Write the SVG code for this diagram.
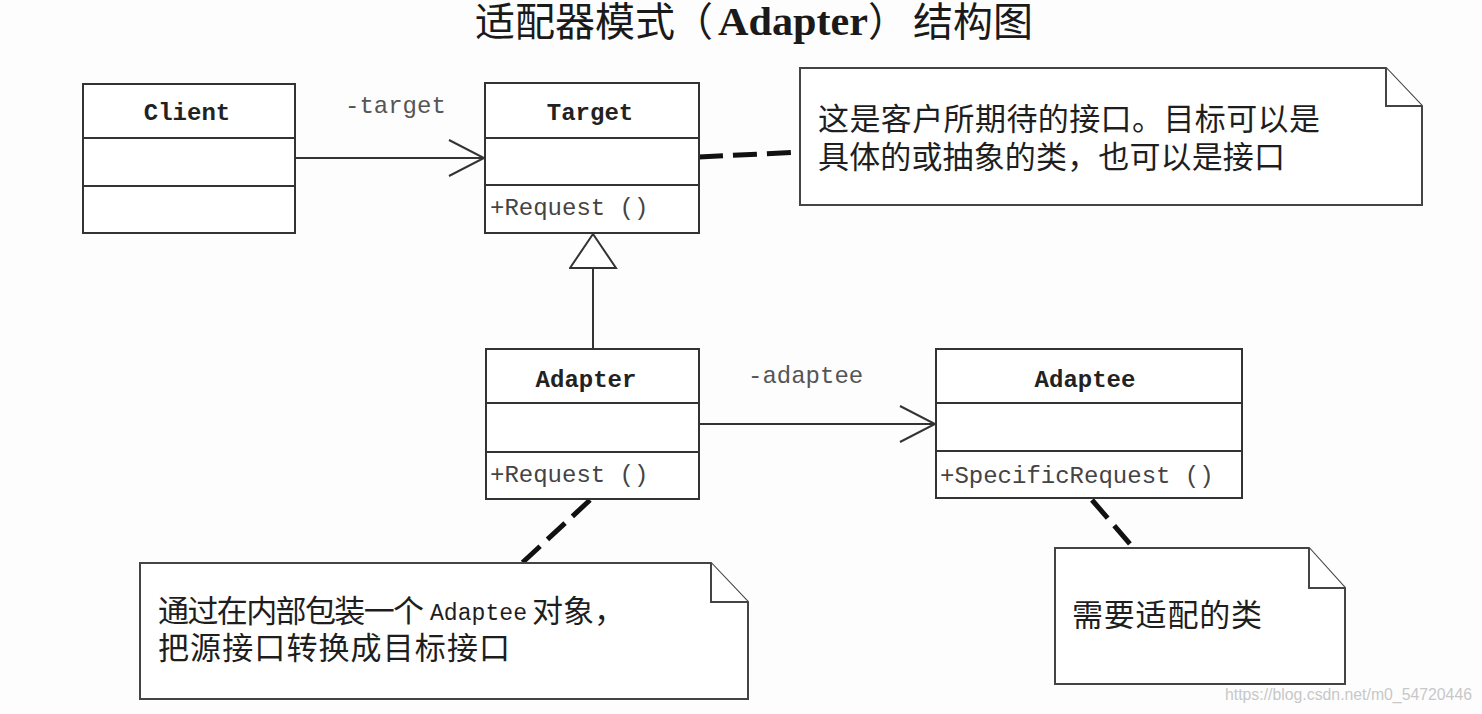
<svg xmlns="http://www.w3.org/2000/svg" width="1482" height="714" viewBox="0 0 1482 714">
  <defs>
    <style>
      .box { fill: #ffffff; stroke: #333333; stroke-width: 2; }
      .div { stroke: #333333; stroke-width: 2; }
      .cname { font-family: "Liberation Mono", "DejaVu Sans Mono", monospace; font-size: 24px; font-weight: bold; fill: #222222; text-anchor: middle; }
      .member { font-family: "Liberation Mono", "DejaVu Sans Mono", monospace; font-size: 24px; fill: #444444; }
      .role { font-family: "Liberation Mono", "DejaVu Sans Mono", monospace; font-size: 24px; fill: #555555; }
      .note { fill: #ffffff; stroke: #444444; stroke-width: 2; }
      .ntext { font-family: "Noto Sans CJK SC", "Noto Sans", sans-serif; font-size: 31px; fill: #1e1e1e; }
      .assoc { stroke: #333333; stroke-width: 2; fill: none; }
      .anchor { stroke: #111111; stroke-width: 5; stroke-dasharray: 24 10; fill: none; }
      .title { font-family: "Noto Sans CJK SC", "Noto Sans", sans-serif; font-size: 40px; fill: #1a1a1a; }
    </style>
    <marker id="open" markerUnits="userSpaceOnUse" markerWidth="40" markerHeight="40" refX="36" refY="19" orient="auto">
      <path d="M1,1 L36,19 L1,37" fill="none" stroke="#333333" stroke-width="2"/>
    </marker>
    <marker id="gen" markerUnits="userSpaceOnUse" markerWidth="40" markerHeight="52" refX="35" refY="24" orient="auto">
      <path d="M1,1 L35,24 L1,47 Z" fill="#ffffff" stroke="#333333" stroke-width="2"/>
    </marker>
  </defs>

  <rect x="0" y="0" width="1482" height="714" fill="#fdfdfd"/>

  <g id="title">
    <text class="title" y="36"><tspan x="475">适配器模式</tspan><tspan x="673">（</tspan><tspan x="718" y="35" font-family="Liberation Serif, serif" font-weight="bold" textLength="150" lengthAdjust="spacingAndGlyphs">Adapter</tspan><tspan x="868" y="36">）</tspan><tspan x="913">结构图</tspan></text>
  </g>

  <g id="connectors">
    <line class="assoc" x1="295" y1="158" x2="484" y2="158" marker-end="url(#open)"/>
    <text class="role" x="345" y="113">-target</text>
    <line class="assoc" x1="593" y1="349" x2="593" y2="234" marker-end="url(#gen)"/>
    <line class="assoc" x1="699" y1="424" x2="935" y2="424" marker-end="url(#open)"/>
    <text class="role" x="748" y="383">-adaptee</text>
    <line class="anchor" x1="699" y1="157" x2="800" y2="152"/>
    <line class="anchor" x1="590" y1="500" x2="522" y2="563"/>
    <line class="anchor" x1="1092" y1="500" x2="1130" y2="544"/>
  </g>

  <g id="client">
    <rect class="box" x="83" y="84" width="212" height="149"/>
    <line class="div" x1="83" y1="138" x2="295" y2="138"/>
    <line class="div" x1="83" y1="186" x2="295" y2="186"/>
    <text class="cname" x="187" y="120">Client</text>
  </g>

  <g id="target">
    <rect class="box" x="485" y="83" width="214" height="150"/>
    <line class="div" x1="485" y1="138" x2="699" y2="138"/>
    <line class="div" x1="485" y1="185" x2="699" y2="185"/>
    <text class="cname" x="590" y="120">Target</text>
    <text class="member" x="490" y="215">+Request ()</text>
  </g>

  <g id="adapter">
    <rect class="box" x="486" y="349" width="213" height="150"/>
    <line class="div" x1="486" y1="403" x2="699" y2="403"/>
    <line class="div" x1="486" y1="452" x2="699" y2="452"/>
    <text class="cname" x="586" y="387">Adapter</text>
    <text class="member" x="490" y="482">+Request ()</text>
  </g>

  <g id="adaptee">
    <rect class="box" x="936" y="349" width="306" height="149"/>
    <line class="div" x1="936" y1="403" x2="1242" y2="403"/>
    <line class="div" x1="936" y1="451" x2="1242" y2="451"/>
    <text class="cname" x="1085" y="387">Adaptee</text>
    <text class="member" x="940" y="483">+SpecificRequest ()</text>
  </g>

  <g id="note-target">
    <path class="note" d="M800,68 H1386 L1422,106 V205 H800 Z"/>
    <path class="note" d="M1386,68 V106 H1422" fill="none"/>
    <text class="ntext"><tspan x="818" y="130" textLength="502" lengthAdjust="spacing">这是客户所期待的接口。目标可以是</tspan><tspan x="818" y="168" textLength="467" lengthAdjust="spacing">具体的或抽象的类，也可以是接口</tspan></text>
  </g>

  <g id="note-adapter">
    <path class="note" d="M140,563 H711 L748,602 V699 H140 Z"/>
    <path class="note" d="M711,563 V602 H748" fill="none"/>
    <text class="ntext"><tspan x="158" y="622" textLength="266" lengthAdjust="spacing">通过在内部包装一个</tspan><tspan x="430" y="620" font-family="Liberation Mono, monospace" font-size="23" textLength="97" lengthAdjust="spacingAndGlyphs">Adaptee</tspan><tspan x="532" y="622">对象，</tspan><tspan x="158" y="659" textLength="352" lengthAdjust="spacing">把源接口转换成目标接口</tspan></text>
  </g>

  <g id="note-adaptee">
    <path class="note" d="M1055,548 H1309 L1345,588 V684 H1055 Z"/>
    <path class="note" d="M1309,548 V588 H1345" fill="none"/>
    <text class="ntext" x="1072" y="626" textLength="190" lengthAdjust="spacing">需要适配的类</text>
  </g>

  <text x="1225" y="700" font-family="Liberation Sans, Arial, sans-serif" font-size="16" fill="#c8c8c8" textLength="247" lengthAdjust="spacingAndGlyphs">https://blog.csdn.net/m0_54720446</text>
</svg>
